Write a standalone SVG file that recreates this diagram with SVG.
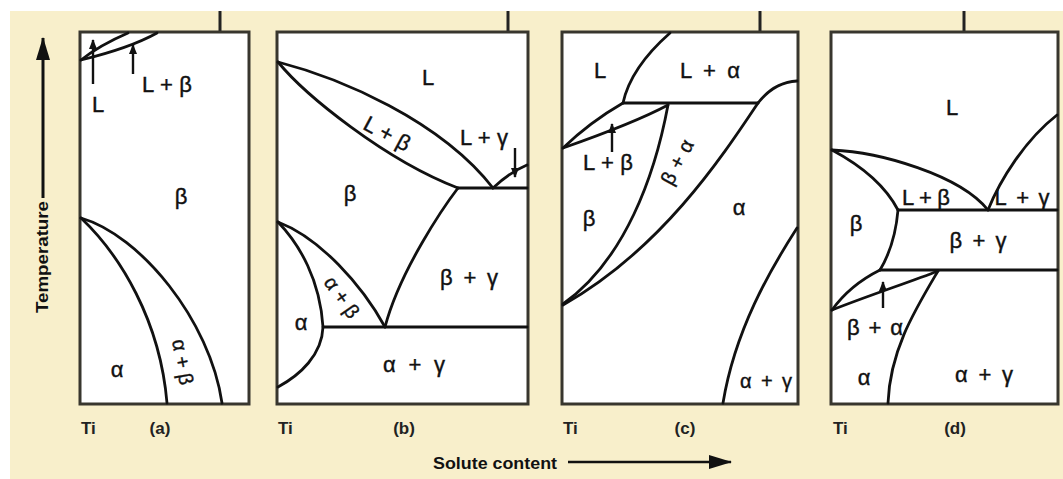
<svg xmlns="http://www.w3.org/2000/svg" width="1063" height="479" viewBox="0 0 1063 479">
<defs>
<style>
.bg{fill:#F8EFCB}
.panel{fill:#fff;stroke:#38362e;stroke-width:3}
.tick{stroke:#222;stroke-width:3}
.ln{fill:none;stroke:#111;stroke-width:2.8;stroke-linecap:round;stroke-linejoin:round}
.lead{fill:none;stroke:#111;stroke-width:2.4}
.lbl{font-family:"Liberation Sans",Arial,sans-serif;font-size:22px;fill:#111;text-anchor:middle;stroke:#111;stroke-width:0.4}
.sm{font-size:20px}
.ti{font-family:"Liberation Sans",Arial,sans-serif;font-size:17px;font-weight:bold;fill:#222}
.ax{font-family:"Liberation Sans",Arial,sans-serif;font-weight:bold;font-size:17px;fill:#111}
</style>
<marker id="ah" markerUnits="userSpaceOnUse" markerWidth="10" markerHeight="12" refX="9" refY="4" orient="auto">
<path d="M0,0 L10,4 L0,8 Z" fill="#111"/>
</marker>
<marker id="bigah" markerUnits="userSpaceOnUse" markerWidth="24" markerHeight="16" refX="22" refY="7" orient="auto">
<path d="M0,0 L23,7 L0,14 Z" fill="#111"/>
</marker>
</defs>
<rect class="bg" x="10" y="11" width="1053" height="468"/>
<g id="ticks">
<line class="tick" x1="220" y1="11" x2="220" y2="32"/>
<line class="tick" x1="508" y1="11" x2="508" y2="32"/>
<line class="tick" x1="760" y1="11" x2="760" y2="32"/>
<line class="tick" x1="964" y1="11" x2="964" y2="32"/>
</g>

<g id="panel-a">
<rect class="panel" x="80" y="32" width="169" height="372"/>
<path class="ln" d="M81,60 Q100,45 128,33"/>
<path class="ln" d="M81,60 Q130,48 157,33"/>
<path class="ln" d="M81,218 C120,255 160,320 167,403"/>
<path class="ln" d="M81,218 C140,235 210,320 222,403"/>
<line class="lead" x1="93" y1="84" x2="93" y2="40" marker-end="url(#ah)"/>
<line class="lead" x1="133" y1="74" x2="133" y2="45" marker-end="url(#ah)"/>
<text class="lbl" x="98" y="112">L</text>
<text class="lbl" x="167" y="92" textLength="50" lengthAdjust="spacing">L + β</text>
<text class="lbl" x="181" y="204">β</text>
<text class="lbl" x="117" y="377">α</text>
<text class="lbl sm" transform="translate(183,362) rotate(80)" x="0" y="7" textLength="46" lengthAdjust="spacing">α+β</text>
<text class="ti" x="81" y="434">Ti</text>
<text class="ti" x="160" y="434" text-anchor="middle">(a)</text>
</g>

<g id="panel-b">
<rect class="panel" x="277" y="32" width="251" height="372"/>
<path class="ln" d="M278,62 C340,78 440,120 493,188"/>
<path class="ln" d="M278,62 C305,95 385,160 458,188"/>
<path class="ln" d="M458,188 L527,188"/>
<path class="ln" d="M493,188 Q510,172 527,165"/>
<path class="ln" d="M458,188 C445,205 400,270 385,327"/>
<path class="ln" d="M323,327 L527,327"/>
<path class="ln" d="M278,222 C300,245 320,280 323,327 C322,355 300,375 278,387"/>
<path class="ln" d="M278,222 C320,238 362,285 385,327"/>
<line class="lead" x1="515" y1="148" x2="515" y2="177" marker-end="url(#ah)"/>
<text class="lbl" x="428" y="85">L</text>
<text class="lbl" transform="translate(387,134) rotate(28)" x="0" y="7" textLength="50" lengthAdjust="spacing">L + β</text>
<text class="lbl" x="484" y="145" textLength="48" lengthAdjust="spacing">L + γ</text>
<text class="lbl" x="350" y="201">β</text>
<text class="lbl" x="301" y="330">α</text>
<text class="lbl sm" transform="translate(342,297) rotate(55)" x="0" y="7" textLength="46" lengthAdjust="spacing">α+β</text>
<text class="lbl" x="469" y="285" textLength="58" lengthAdjust="spacing">β + γ</text>
<text class="lbl" x="414" y="372" textLength="62" lengthAdjust="spacing">α + γ</text>
<text class="ti" x="278" y="434">Ti</text>
<text class="ti" x="404" y="434" text-anchor="middle">(b)</text>
</g>

<g id="panel-c">
<rect class="panel" x="562" y="32" width="236" height="372"/>
<path class="ln" d="M670,33 C645,55 628,80 623,103"/>
<path class="ln" d="M623,103 L758,103"/>
<path class="ln" d="M797,81 C780,82 768,90 758,103"/>
<path class="ln" d="M623,103 Q590,122 563,148"/>
<path class="ln" d="M668,105 C640,120 600,135 563,148"/>
<path class="ln" d="M668,105 C655,175 625,260 563,304"/>
<path class="ln" d="M758,103 C720,160 660,250 563,305"/>
<path class="ln" d="M797,228 C770,270 735,330 723,403"/>
<line class="lead" x1="612" y1="152" x2="612" y2="124" marker-end="url(#ah)"/>
<text class="lbl" x="600" y="78">L</text>
<text class="lbl" x="710" y="78" textLength="60" lengthAdjust="spacing">L + α</text>
<text class="lbl" x="608" y="170" textLength="50" lengthAdjust="spacing">L + β</text>
<text class="lbl sm" transform="translate(677,162) rotate(-62)" x="0" y="7" textLength="48" lengthAdjust="spacing">β+α</text>
<text class="lbl" x="589" y="226">β</text>
<text class="lbl" x="739" y="215">α</text>
<text class="lbl sm" x="766" y="388" textLength="52" lengthAdjust="spacing">α + γ</text>
<text class="ti" x="563" y="434">Ti</text>
<text class="ti" x="685" y="434" text-anchor="middle">(c)</text>
</g>

<g id="panel-d">
<rect class="panel" x="831" y="32" width="227" height="372"/>
<path class="ln" d="M832,150 C880,152 960,175 988,210"/>
<path class="ln" d="M832,150 C860,165 885,185 898,210"/>
<path class="ln" d="M988,210 C1000,180 1025,140 1057,115"/>
<path class="ln" d="M898,210 L1057,210"/>
<path class="ln" d="M898,210 Q895,245 880,270"/>
<path class="ln" d="M880,270 L1057,270"/>
<path class="ln" d="M880,270 Q850,285 832,310"/>
<path class="ln" d="M938,271 C910,282 870,295 832,310"/>
<path class="ln" d="M938,271 C915,310 890,350 888,403"/>
<line class="lead" x1="883" y1="308" x2="883" y2="282" marker-end="url(#ah)"/>
<text class="lbl" x="952" y="115">L</text>
<text class="lbl" x="926" y="205" textLength="48" lengthAdjust="spacing">L + β</text>
<text class="lbl" x="1022" y="205" textLength="55" lengthAdjust="spacing">L+γ</text>
<text class="lbl" x="856" y="231">β</text>
<text class="lbl" x="978" y="248" textLength="57" lengthAdjust="spacing">β + γ</text>
<text class="lbl" x="875" y="335" textLength="56" lengthAdjust="spacing">β+α</text>
<text class="lbl" x="864" y="385">α</text>
<text class="lbl" x="984" y="382" textLength="58" lengthAdjust="spacing">α + γ</text>
<text class="ti" x="833" y="434">Ti</text>
<text class="ti" x="955" y="434" text-anchor="middle">(d)</text>
</g>

<g id="connectors">
<line x1="43" y1="198" x2="43" y2="38" stroke="#111" stroke-width="3" marker-end="url(#bigah)"/>
<line x1="568" y1="462" x2="731" y2="462" stroke="#111" stroke-width="2.5" marker-end="url(#bigah)"/>
</g>
<g id="axis-labels">
<text class="ax" transform="translate(48,257) rotate(-90)" x="0" y="0" text-anchor="middle" textLength="112" lengthAdjust="spacingAndGlyphs">Temperature</text>
<text class="ax" x="433" y="469" textLength="124" lengthAdjust="spacingAndGlyphs">Solute content</text>
</g>
</svg>
